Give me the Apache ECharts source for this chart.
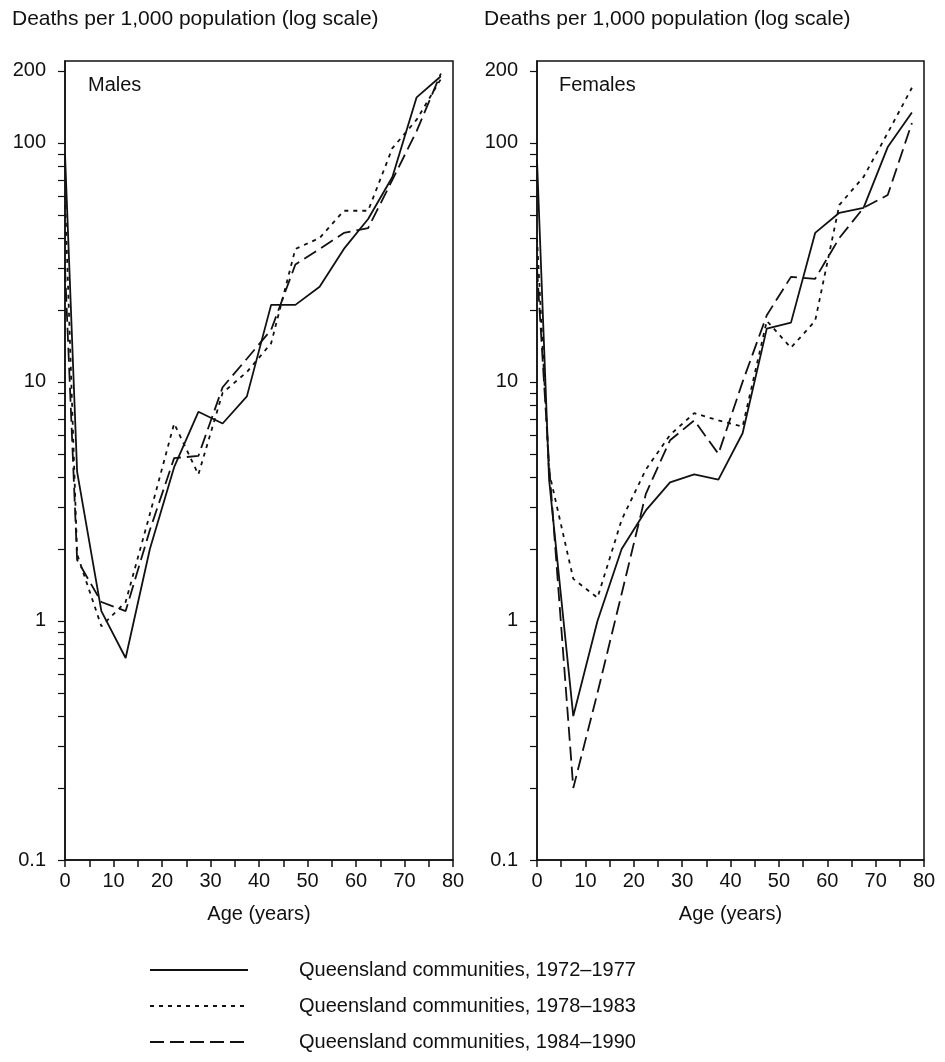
<!DOCTYPE html>
<html>
<head>
<meta charset="UTF-8">
<title>Deaths per 1,000 population</title>
<script src="https://cdn.jsdelivr.net/npm/echarts@6/dist/echarts.min.js"></script>
<style>
  html, body { margin: 0; padding: 0; background: #fff; }
  #chart { width: 945px; height: 1062px; }
</style>
</head>
<body>
<div id="chart"></div>
<script>
// age group mid-points (years)
const ages = [0, 2.5, 7.5, 12.5, 17.5, 22.5, 27.5, 32.5, 37.5, 42.5, 47.5, 52.5, 57.5, 62.5, 67.5, 72.5, 77.5];
const periods = ['Queensland communities, 1972\u20131977', 'Queensland communities, 1978\u20131983', 'Queensland communities, 1984\u20131990'];

// deaths per 1,000
const males7277 = [90, 4.2, 1.1, 0.7, 2.0, 4.4, 7.5, 6.7, 8.7, 21, 21, 25, 36, 48, 72, 155, 190];
const males7883 = [60, 1.9, 0.95, 1.2, 2.8, 6.7, 4.1, 9.0, 11, 14.5, 36, 40, 52, 52, 95, 125, 185];
const males8490 = [30, 1.8, 1.2, 1.1, 2.4, 4.8, 4.9, 9.5, 12.5, 16.5, 31, 36, 42, 44, 70, 112, 195];

const females7277 = [85, 3.9, 0.4, 1.0, 2.0, 2.9, 3.8, 4.1, 3.9, 6.1, 16.7, 17.7, 42, 51, 53.5, 96, 134];
const females7883 = [40, 4.2, 1.5, 1.25, 2.65, 4.3, 6.0, 7.4, 6.9, 6.5, 18, 13.9, 18, 55, 72, 110, 170];
const females8490 = [30, 4.5, 0.2, 0.5, 1.3, 3.4, 5.7, 6.9, 5.0, 10, 19, 27.5, 27, 40, 53.5, 60.5, 121];

const yTickValues = [0.1, 0.2, 0.3, 0.4, 0.5, 0.6, 0.7, 0.8, 0.9,
  1, 2, 3, 4, 5, 6, 7, 8, 9,
  10, 20, 30, 40, 50, 60, 70, 80, 90,
  100, 200];
const yLabelValues = [0.1, 1, 10, 100, 200];

const FONT = '"Liberation Sans", Arial, Helvetica, sans-serif';
const INK = '#111';

function pairs(vals) {
  return ages.map((a, i) => [a, vals[i]]);
}

const lineTypes = ['solid', [4, 5], [14, 6]];

function makeSeries(gridIdx, lists) {
  return lists.map((vals, k) => ({
    name: periods[k],
    type: 'line',
    xAxisIndex: gridIdx,
    yAxisIndex: gridIdx,
    symbol: 'none',
    silent: true,
    animation: false,
    lineStyle: { color: INK, width: 1.8, type: lineTypes[k] },
    itemStyle: { color: INK },
    data: pairs(vals)
  }));
}

function xAxisFor(i) {
  return {
    gridIndex: i,
    type: 'value',
    min: 0,
    max: 80,
    interval: 5,
    name: 'Age (years)',
    nameLocation: 'middle',
    nameGap: 44,
    nameTextStyle: { color: INK, fontSize: 20, fontFamily: FONT },
    axisLine: { lineStyle: { color: INK, width: 1.5 } },
    axisTick: { length: 7, lineStyle: { color: INK, width: 1.5 } },
    axisLabel: {
      color: INK, fontSize: 20, fontFamily: FONT, margin: 11,
      formatter: v => (v % 10 === 0 ? String(v) : '')
    },
    splitLine: { show: false }
  };
}

function yAxisFor(i) {
  return {
    gridIndex: i,
    type: 'log',
    logBase: 10,
    min: 0.1,
    max: 220,
    axisLine: { show: true, lineStyle: { color: INK, width: 1.5 } },
    axisTick: { show: true, length: 7, customValues: yTickValues, lineStyle: { color: INK, width: 1.2 } },
    axisLabel: {
      color: INK, fontSize: 20, fontFamily: FONT, margin: 19,
      customValues: yLabelValues,
      formatter: v => String(v)
    },
    splitLine: { show: false },
    minorTick: { show: false }
  };
}

const chart = echarts.init(document.getElementById('chart'));

const titleStyle = { fontSize: 21, fontWeight: 'normal', color: INK, fontFamily: FONT };
const panelStyle = { fontSize: 20, fontWeight: 'normal', color: INK, fontFamily: FONT };

const option = {
  animation: false,
  backgroundColor: '#fff',
  title: [
    { text: 'Deaths per 1,000 population (log scale)', left: 12, top: 9, padding: 0, textStyle: titleStyle },
    { text: 'Deaths per 1,000 population (log scale)', left: 484, top: 9, padding: 0, textStyle: titleStyle },
    { text: 'Males', left: 88, top: 75, padding: 0, textStyle: panelStyle },
    { text: 'Females', left: 559, top: 75, padding: 0, textStyle: panelStyle }
  ],
  grid: [
    { left: 65, top: 61, width: 388, height: 799, show: true, borderColor: INK, borderWidth: 1.5, backgroundColor: 'transparent' },
    { left: 537, top: 61, width: 387, height: 799, show: true, borderColor: INK, borderWidth: 1.5, backgroundColor: 'transparent' }
  ],
  xAxis: [xAxisFor(0), xAxisFor(1)],
  yAxis: [yAxisFor(0), yAxisFor(1)],
  legend: {
    orient: 'vertical',
    left: 144,
    top: 955,
    itemWidth: 98,
    itemHeight: 14,
    itemGap: 16,
    selectedMode: false,
    data: periods,
    itemStyle: { opacity: 0 },
    lineStyle: { width: 2 },
    textStyle: { color: INK, fontSize: 20, fontFamily: FONT, padding: [0, 0, 0, 46] }
  },
  series: [
    ...makeSeries(0, [males7277, males7883, males8490]),
    ...makeSeries(1, [females7277, females7883, females8490])
  ]
};

chart.setOption(option);
</script>
</body>
</html>
